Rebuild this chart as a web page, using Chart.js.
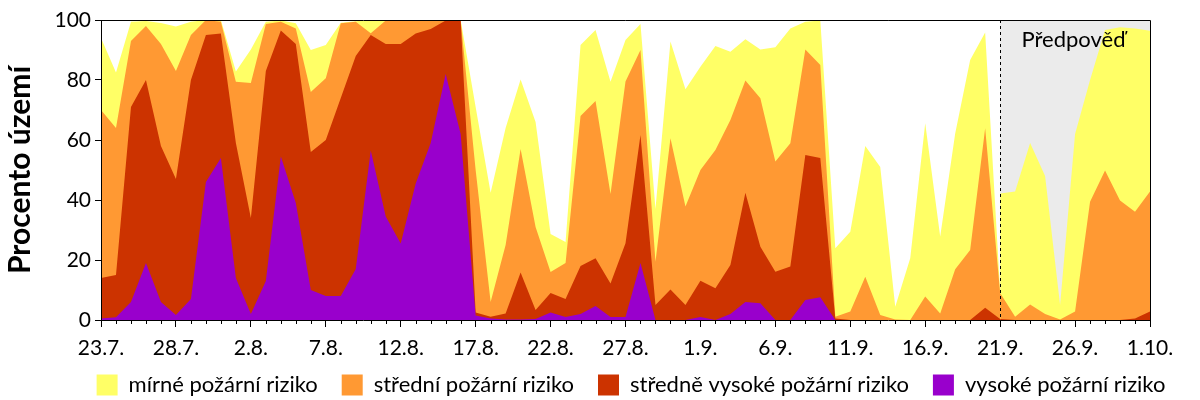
<!DOCTYPE html>
<html lang="cs">
<head>
    <meta charset="UTF-8" />
    <title>Požární riziko</title>
    <script src="https://cdn.jsdelivr.net/npm/chart.js"></script>
    <style>
        html, body { margin: 0; padding: 0; background: #fff; }
        .chart-container { width: 1200px; height: 400px; position: relative; }
    </style>
</head>
<body>
<div class="chart-container">
    <canvas id="rizikoChart" width="1200" height="400"></canvas>
</div>

<script>
// osa x: každý den od 23.7. do 1.10.
const firstDay = new Date(2021, 6, 23);
const dayCount = 71;
const tickLabels = ['23.7.', '28.7.', '2.8.', '7.8.', '12.8.', '17.8.', '22.8.', '27.8.',
                    '1.9.', '6.9.', '11.9.', '16.9.', '21.9.', '26.9.', '1.10.'];
const forecastStart = 60; // 21.9.

// kumulativní podíl území (%), naměřeno 23.7. – 21.9.
const mirneObs = [94, 82.5, 99.4, 99.7, 99, 97.8, 99.4, 100, 100, 82.8,
    90.2, 99.4, 99.8, 98.9, 90, 91.7, 99.1, 99.6, 100, 100,
    100, 100, 100, 100, 100, 71, 42.4, 64, 80.2, 66,
    28.7, 26, 91.7, 96.7, 79.4, 93.3, 98.7, 37, 92.8, 76.9,
    84.4, 91.3, 89.4, 93.6, 90.2, 90.9, 97.2, 99.4, 99.8, 23.9,
    29.4, 58, 51, 4.4, 20.6, 65.6, 27.8, 62.2, 86.7, 95.8,
    9.5];
const stredniObs = [70, 64, 93, 98, 92, 83, 95, 100, 99.4, 79.4,
    79, 98.7, 99.4, 97.2, 76, 80.6, 98.9, 99.4, 95.6, 99.8,
    99.8, 100, 100, 100, 100, 50, 6, 25, 57, 31,
    16, 19, 68, 73, 42, 79.5, 90, 19.4, 60.6, 37.8,
    50, 56.7, 66.7, 79.8, 73.9, 52.8, 58.9, 90.2, 85, 1.1,
    2.8, 14.4, 1.7, 0.2, 0, 7.8, 2.2, 16.9, 23.3, 63.9,
    9];
const strVysObs = [14, 15, 71, 80, 58, 47, 80, 95, 95.5, 59,
    34, 83, 96.5, 92, 56, 60, 74, 88, 95, 92,
    92, 95.5, 97, 99.8, 100, 2.5, 1.1, 2.2, 15.8, 3.3,
    9, 7, 18, 20.6, 12.2, 25.6, 61.7, 5, 10.2, 5,
    13.1, 10.6, 18.3, 42.4, 24.4, 16.1, 17.8, 55, 54, 0.5,
    0, 0, 0, 0, 0, 0, 0, 0, 0, 4.1,
    0.3];
const vysokeObs = [0.5, 0.9, 6, 19, 6, 1.7, 7, 46, 54, 14,
    2, 13, 54.5, 39, 10, 8, 8, 17, 56.5, 34.5,
    25.5, 45.5, 59, 82, 62, 1.5, 0.5, 0.2, 0.2, 0.3,
    2.5, 1, 2, 4.7, 1, 1, 19, 0, 0, 0,
    1, 0, 2, 6, 5.6, 0, 0, 6.7, 7.6, 0,
    0, 0, 0, 0, 0, 0, 0, 0, 0, 0,
    0];

// předpověď 21.9. – 1.10.
const mirnePred   = [42.2, 42.8, 59, 48, 5, 62, 80, 96.7, 97.6, 97.2, 96.4];
const stredniPred = [9, 1.1, 5.2, 2, 0.2, 2.8, 39.4, 49.8, 39.8, 36.1, 42.8];
const strVysPred  = [0.3, 0, 0, 0, 0, 0, 0, 0, 0, 0.5, 2.8];
const vysokePred  = [0, 0, 0, 0, 0, 0, 0, 0, 0, 0, 0];

const seriesNames = ['mírné požární riziko', 'střední požární riziko',
                     'středně vysoké požární riziko', 'vysoké požární riziko'];
const seriesColors = ['#ffff66', '#ff9933', '#cc3300', '#9900cc'];

const dayLabels = [];
for (let i = 0; i < dayCount; i++) {
    const d = new Date(firstDay);
    d.setDate(d.getDate() + i);
    dayLabels.push(d.getDate() + '.' + (d.getMonth() + 1) + '.');
}

const obsFull = arr => arr.concat(new Array(dayCount - arr.length).fill(null));
const predFull = arr => new Array(dayCount - arr.length).fill(null).concat(arr);

const obsSets = [mirneObs, stredniObs, strVysObs, vysokeObs];
const predSets = [mirnePred, stredniPred, strVysPred, vysokePred];

// vysoké riziko musí být nakresleno navrchu -> v poli první
const datasets = [];
for (let k = 3; k >= 0; k--) {
    const base = {
        label: seriesNames[k],
        backgroundColor: seriesColors[k],
        borderColor: 'transparent',
        borderWidth: 0,
        pointRadius: 0,
        pointHoverRadius: 0,
        tension: 0,
        fill: 'origin'
    };
    datasets.push(Object.assign({}, base, { data: obsFull(obsSets[k]) }));
    datasets.push(Object.assign({}, base, { data: predFull(predSets[k]), isForecast: true }));
}

const FONT = 'Lato, "DejaVu Sans", sans-serif';

const forecastPlugin = {
    id: 'forecast',
    beforeDatasetsDraw(chart) {
        const { ctx, chartArea: a, scales: { x } } = chart;
        const x0 = x.getPixelForValue(forecastStart);
        ctx.save();
        ctx.fillStyle = '#ebebeb';
        ctx.fillRect(x0, a.top, a.right - x0, a.bottom - a.top);
        ctx.restore();
    },
    afterDatasetsDraw(chart) {
        const { ctx, chartArea: a, scales: { x } } = chart;
        const x0 = Math.round(x.getPixelForValue(forecastStart)) + 0.5;
        ctx.save();
        ctx.strokeStyle = '#000';
        ctx.lineWidth = 1;
        ctx.setLineDash([3, 3]);
        ctx.beginPath();
        ctx.moveTo(x0, a.top);
        ctx.lineTo(x0, a.bottom);
        ctx.stroke();
        ctx.setLineDash([]);

        ctx.fillStyle = '#000';
        ctx.font = '22px ' + FONT;
        ctx.textBaseline = 'alphabetic';
        ctx.fillText('Předpověď', x0 + 21, a.top + 27);

        // rámeček nahoře a vpravo
        ctx.beginPath();
        ctx.moveTo(a.left, a.top + 0.5);
        ctx.lineTo(a.right + 0.5, a.top + 0.5);
        ctx.lineTo(a.right + 0.5, a.bottom);
        ctx.stroke();

        // krátké denní značky
        for (let i = 0; i < dayCount; i++) {
            if (i % 5 === 0) continue;
            const xi = Math.round(x.getPixelForValue(i)) + 0.5;
            ctx.beginPath();
            ctx.moveTo(xi, a.bottom);
            ctx.lineTo(xi, a.bottom + 4);
            ctx.stroke();
        }
        ctx.restore();
    }
};

// legenda: pevná výška, posun na střed pod grafem, horní okraj výš
const legendHeight = 36;
const legendShiftX = 56;
const legendRaise = 14;
const legendLayout = {
    id: 'legendLayout',
    beforeLayout(chart) {
        const lg = chart.legend;
        if (lg && !lg.fixedHeight) {
            const fit = lg.fit;
            lg.fit = function () { fit.call(this); this.height = legendHeight; };
            lg.fixedHeight = true;
        }
    },
    afterLayout(chart) {
        const lg = chart.legend;
        if (lg) {
            lg.left += legendShiftX; lg.right += legendShiftX;
            lg.top -= legendRaise;
        }
    }
};

new Chart(document.getElementById('rizikoChart'), {
    type: 'line',
    data: { labels: dayLabels, datasets: datasets },
    plugins: [forecastPlugin, legendLayout],
    options: {
        responsive: false,
        animation: false,
        layout: { padding: { top: 20, right: 50, left: 0, bottom: 0 } },
        plugins: {
            tooltip: { enabled: false },
            legend: {
                position: 'bottom',
                reverse: true,
                labels: {
                    filter: item => !datasets[item.datasetIndex].isForecast,
                    boxWidth: 21,
                    boxHeight: 21,
                    padding: 24,
                    color: '#000',
                    font: { family: FONT, size: 22 }
                }
            }
        },
        scales: {
            x: {
                afterFit: scale => { scale.height = 44; },
                border: { color: '#000', width: 1, z: 1 },
                grid: {
                    drawOnChartArea: false,
                    tickLength: 7,
                    tickColor: c => (c.index % 5 === 0 ? '#000' : 'transparent')
                },
                ticks: {
                    autoSkip: false,
                    maxRotation: 0,
                    padding: 9,
                    color: '#000',
                    font: { family: FONT, size: 21 },
                    callback: (val, index) => (index % 5 === 0 ? tickLabels[index / 5] : '')
                }
            },
            y: {
                min: 0,
                max: 100,
                afterFit: scale => { scale.width = 101; },
                border: { color: '#000', width: 1, z: 1 },
                grid: { drawOnChartArea: false, tickLength: 6, tickColor: '#000' },
                ticks: {
                    stepSize: 20,
                    padding: 4,
                    color: '#000',
                    font: { family: FONT, size: 21 }
                },
                title: {
                    display: true,
                    text: 'Procento území',
                    color: '#000',
                    font: { family: FONT, size: 30, weight: 'bold' },
                    padding: { top: 2, bottom: 0 }
                }
            }
        }
    }
});
</script>
</body>
</html>
